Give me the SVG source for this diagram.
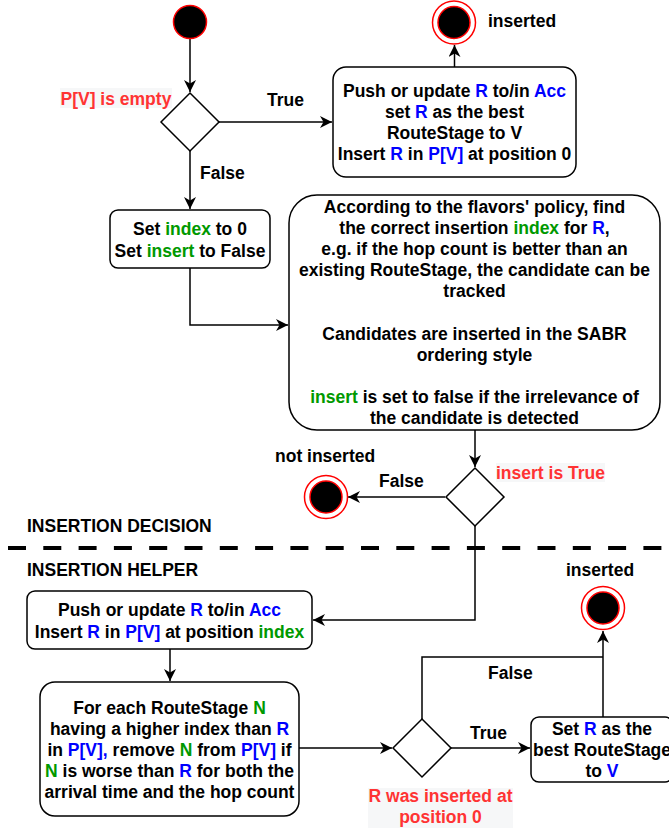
<svg xmlns="http://www.w3.org/2000/svg" width="669" height="828" viewBox="0 0 669 828">
<style>
text{font-family:"Liberation Sans",Arial,sans-serif;font-weight:bold;font-size:17.5px;fill:#000}
.c{text-anchor:middle}
.b{fill:#0000FF}
.g{fill:#009900}
.r{fill:#FF3333}
.box{fill:#fff;stroke:#000;stroke-width:1.5}
.edge{fill:none;stroke:#000;stroke-width:1.5}
.lbg{fill:#F6F7F8}
.start{fill:#000;stroke:#FF0000;stroke-width:1.5}
.ering{fill:#fff;stroke:#FF0000;stroke-width:1.5}
.ein{fill:#000;stroke:#FF0000;stroke-width:1.5}
</style>
<defs>
<marker id="arr" markerUnits="userSpaceOnUse" markerWidth="14" markerHeight="12" refX="12" refY="6" orient="auto">
<path d="M0,0 L12,6 L0,12 L3.5,6 z" fill="#000"/>
</marker>
</defs>

<g id="connectors">
<path class="edge" d="M190,39 L190,92" marker-end="url(#arr)"/>
<path class="edge" d="M219,122 L332,122" marker-end="url(#arr)"/>
<path class="edge" d="M454.5,67 L454.5,45" marker-end="url(#arr)"/>
<path class="edge" d="M190,151 L190,209" marker-end="url(#arr)"/>
<path class="edge" d="M190,268 L190,325 L288,325" marker-end="url(#arr)"/>
<path class="edge" d="M475,430 L475,467" marker-end="url(#arr)"/>
<path class="edge" d="M445,497 L348,497" marker-end="url(#arr)"/>
<path class="edge" d="M475,526 L475,620 L313,620" marker-end="url(#arr)"/>
<path class="edge" d="M170,649 L170,681" marker-end="url(#arr)"/>
<path class="edge" d="M299,748 L392,748" marker-end="url(#arr)"/>
<path class="edge" d="M451,748 L530,748" marker-end="url(#arr)"/>
<path class="edge" d="M603,717 L603,631" marker-end="url(#arr)"/>
<path class="edge" d="M422,719 L422,657 L603,657"/>
</g>

<g id="start">
<circle class="start" cx="190" cy="22" r="16.5"/>
</g>

<g id="decision-empty">
<path class="box" d="M190,93 L219,122 L190,151 L161,122 Z"/>
<rect class="lbg" x="60" y="88" width="112" height="20"/>
<text x="60.5" y="105" class="r">P[V] is empty</text>
<text x="267" y="106">True</text>
<text x="200" y="179">False</text>
</g>

<g id="end-inserted-1">
<circle class="ering" cx="454" cy="22.5" r="21.5"/>
<circle class="ein" cx="454" cy="22.5" r="16"/>
<text x="488" y="27">inserted</text>
</g>

<g id="box-push-first">
<rect class="box" x="333" y="67" width="243" height="110" rx="13"/>
<text class="c" x="454.5" y="97">Push or update <tspan class="b">R</tspan> to/in <tspan class="b">Acc</tspan></text>
<text class="c" x="454.5" y="118">set <tspan class="b">R</tspan> as the best</text>
<text class="c" x="454.5" y="139">RouteStage to V</text>
<text class="c" x="454.5" y="160">Insert <tspan class="b">R</tspan> in <tspan class="b">P[V]</tspan> at position 0</text>
</g>

<g id="box-set-index">
<rect class="box" x="110" y="210" width="160" height="58" rx="8"/>
<text class="c" x="190" y="235">Set <tspan class="g">index</tspan> to 0</text>
<text class="c" x="190" y="257">Set <tspan class="g">insert</tspan> to False</text>
</g>

<g id="box-policy">
<rect class="box" x="289" y="195" width="371" height="235" rx="28"/>
<text class="c" x="474.5" y="213">According to the flavors' policy, find</text>
<text class="c" x="474.5" y="234">the correct insertion <tspan class="g">index</tspan> for <tspan class="b">R</tspan>,</text>
<text class="c" x="474.5" y="255">e.g. if the hop count is better than an</text>
<text class="c" x="474.5" y="276">existing RouteStage, the candidate can be</text>
<text class="c" x="474.5" y="297">tracked</text>
<text class="c" x="474.5" y="340">Candidates are inserted in the SABR</text>
<text class="c" x="474.5" y="361">ordering style</text>
<text class="c" x="474.5" y="403"><tspan class="g">insert</tspan> is set to false if the irrelevance of</text>
<text class="c" x="474.5" y="424">the candidate is detected</text>
</g>

<g id="decision-insert">
<path class="box" d="M475,468 L504,497 L475,526 L446,497 Z"/>
<rect class="lbg" x="496" y="463" width="109" height="19"/>
<text x="496" y="479" class="r">insert is True</text>
<text x="379" y="487">False</text>
</g>

<g id="end-not-inserted">
<circle class="ering" cx="326" cy="497" r="21.5"/>
<circle class="ein" cx="326" cy="497" r="16"/>
<text x="275" y="462">not inserted</text>
</g>

<g id="separator">
<line x1="8" y1="548" x2="669" y2="548" stroke="#000" stroke-width="4" stroke-dasharray="18 17.3"/>
<text x="27" y="532">INSERTION DECISION</text>
<text x="27" y="576">INSERTION HELPER</text>
</g>

<g id="box-push-index">
<rect class="box" x="27" y="591" width="285" height="58" rx="8"/>
<text class="c" x="169.5" y="616">Push or update <tspan class="b">R</tspan> to/in <tspan class="b">Acc</tspan></text>
<text class="c" x="169.5" y="638">Insert <tspan class="b">R</tspan> in <tspan class="b">P[V]</tspan> at position <tspan class="g">index</tspan></text>
</g>

<g id="box-remove">
<rect class="box" x="40" y="682" width="259" height="134" rx="15"/>
<text class="c" x="169.5" y="714">For each RouteStage <tspan class="g">N</tspan></text>
<text class="c" x="169.5" y="735">having a higher index than <tspan class="b">R</tspan></text>
<text class="c" x="169.5" y="756">in <tspan class="b">P[V],</tspan> remove <tspan class="g">N</tspan> from <tspan class="b">P[V]</tspan> if</text>
<text class="c" x="169.5" y="777"><tspan class="g">N</tspan> is worse than <tspan class="b">R</tspan> for both the</text>
<text class="c" x="169.5" y="798">arrival time and the hop count</text>
</g>

<g id="decision-position">
<path class="box" d="M422,719 L451,748 L422,777 L393,748 Z"/>
<text x="470" y="739">True</text>
<text x="488" y="679">False</text>
<rect class="lbg" x="368" y="788" width="145" height="40"/>
<text class="c r" x="440.5" y="802">R was inserted at</text>
<text class="c r" x="440.5" y="823">position 0</text>
</g>

<g id="box-set-best">
<rect class="box" x="531" y="717" width="142" height="65" rx="8"/>
<text class="c" x="602" y="735">Set <tspan class="b">R</tspan> as the</text>
<text class="c" x="602" y="756">best RouteStage</text>
<text class="c" x="602" y="777">to <tspan class="b">V</tspan></text>
</g>

<g id="end-inserted-2">
<circle class="ering" cx="603" cy="608" r="21.5"/>
<circle class="ein" cx="603" cy="608" r="16"/>
<text x="566" y="576">inserted</text>
</g>
</svg>
